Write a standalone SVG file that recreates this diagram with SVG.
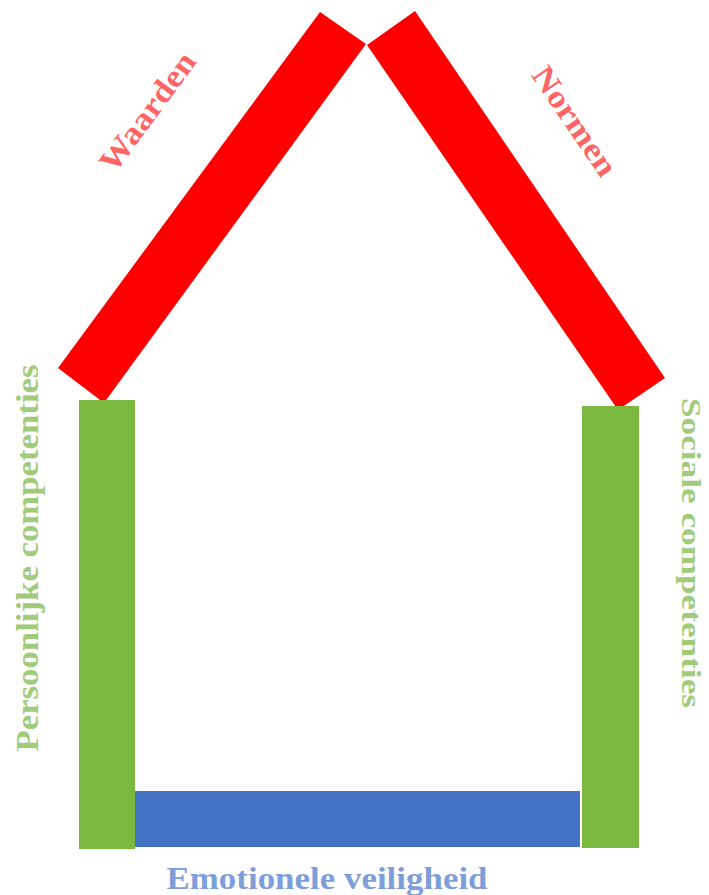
<svg xmlns="http://www.w3.org/2000/svg" width="709" height="895" viewBox="0 0 709 895">
<style>
.lbl{font-family:"Liberation Serif","DejaVu Serif",serif;font-weight:bold;font-size:32px;text-anchor:middle}
.red{fill:#ff0000}
.grn{fill:#7ab83f}
.blu{fill:#4472c4}
.tred{fill:#ff3b3b;fill-opacity:0.8}
.tgrn{fill:#86bd55;fill-opacity:0.8}
.tblu{fill:#5a84d0;fill-opacity:0.8}
</style>
<rect width="709" height="895" fill="#ffffff"/>
<g id="roof-left"><polygon class="red" points="320,12 366,44 104,403 58,368"/></g>
<g id="roof-right"><polygon class="red" points="415,11 367,45 618,410 665,378"/></g>
<g id="wall-left"><rect class="grn" x="79" y="400" width="56" height="449"/></g>
<g id="wall-right"><rect class="grn" x="582" y="406" width="57" height="442"/></g>
<g id="floor"><rect class="blu" x="135" y="791" width="445" height="56"/></g>
<g id="labels">
<text class="lbl tred" transform="translate(156,118) rotate(-53.6)" textLength="140" lengthAdjust="spacingAndGlyphs">Waarden</text>
<text class="lbl tred" transform="translate(566,127) rotate(55.7)" textLength="126" lengthAdjust="spacingAndGlyphs">Normen</text>
<text class="lbl tgrn" transform="translate(38,558) rotate(-90)" textLength="387" lengthAdjust="spacingAndGlyphs">Persoonlijke competenties</text>
<text class="lbl tgrn" style="font-size:28px" transform="translate(682,553) rotate(90)" textLength="310" lengthAdjust="spacingAndGlyphs">Sociale competenties</text>
<text class="lbl tblu" x="327" y="889" textLength="321" lengthAdjust="spacingAndGlyphs">Emotionele veiligheid</text>
</g>
<g id="connectors"></g>
</svg>
